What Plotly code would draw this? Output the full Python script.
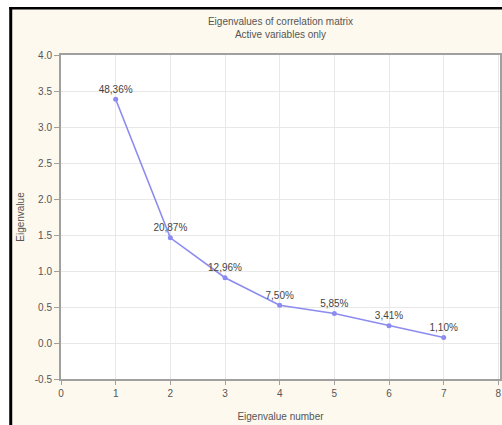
import plotly.graph_objects as go

eigen_number = [1, 2, 3, 4, 5, 6, 7]
eigenvalues = [3.385, 1.461, 0.907, 0.525, 0.410, 0.239, 0.077]
percent_labels = ["48,36%", "20,87%", "12,96%", "7,50%", "5,85%", "3,41%", "1,10%"]
x_ticks = [0, 1, 2, 3, 4, 5, 6, 7, 8]
y_ticks = [-0.5, 0.0, 0.5, 1.0, 1.5, 2.0, 2.5, 3.0, 3.5, 4.0]

W, H = 502, 425
ML, MR, MT, MB = 61, 0, 55, 46
PW, PH = W - ML - MR, H - MT - MB

def px(x):
    return (x - ML) / PW

def py(y):
    return (H - MB - y) / PH

FONT = "Liberation Sans, Arial, sans-serif"
TXT = "#555555"
LINE = "#8c8cf0"

fig = go.Figure()
fig.add_trace(go.Scatter(
    x=eigen_number, y=eigenvalues, mode="lines+markers+text",
    text=percent_labels, textposition="top center",
    textfont=dict(family=FONT, size=10, color="#444444"),
    line=dict(color=LINE, width=1.6),
    marker=dict(color=LINE, size=5, symbol="circle"),
    cliponaxis=False, showlegend=False, hoverinfo="skip",
))

fig.update_layout(
    width=W, height=H,
    margin=dict(l=ML, r=MR, t=MT, b=MB, pad=0),
    paper_bgcolor="#fdf9ee", plot_bgcolor="white",
    font=dict(family=FONT, size=10, color=TXT),
    title=dict(text="Eigenvalues of correlation matrix<br>Active variables only",
               xref="paper", x=0.5, xanchor="center",
               yref="container", y=1 - 25 / H, yanchor="top",
               font=dict(family=FONT, size=10, color=TXT)),
    xaxis=dict(range=[0, 8.03], tickvals=x_ticks, ticktext=[str(v) for v in x_ticks],
               showgrid=True, gridcolor="#e8e8e8", gridwidth=1, zeroline=False,
               showline=True, linecolor="#a0a0a0", linewidth=2, mirror=True,
               ticks="outside", ticklen=4, tickcolor="#a0a0a0",
               tickfont=dict(size=10, color=TXT),
               title=dict(text="Eigenvalue number", standoff=15,
                          font=dict(size=10, color=TXT))),
    yaxis=dict(range=[-0.5, 4.0], tickvals=y_ticks,
               ticktext=[f"{v:.1f}" for v in y_ticks],
               showgrid=True, gridcolor="#e8e8e8", gridwidth=1, zeroline=False,
               showline=True, linecolor="#a0a0a0", linewidth=2, mirror=True,
               ticks="outside", ticklen=5, tickcolor="#a0a0a0",
               tickfont=dict(size=10, color=TXT),
               title=dict(text="Eigenvalue", standoff=8,
                          font=dict(size=10, color=TXT))),
    shapes=[
        dict(type="rect", xref="paper", yref="paper", x0=px(-5), x1=px(9), y0=py(H + 5), y1=py(-5),
             fillcolor="white", line=dict(width=0), layer="above"),
        dict(type="rect", xref="paper", yref="paper", x0=px(-5), x1=px(W + 5), y0=py(7), y1=py(-5),
             fillcolor="white", line=dict(width=0), layer="above"),
        dict(type="rect", xref="paper", yref="paper", x0=px(9), x1=px(12), y0=py(H + 5), y1=py(7),
             fillcolor="black", line=dict(width=0), layer="above"),
        dict(type="rect", xref="paper", yref="paper", x0=px(9), x1=px(W + 5), y0=py(9.5), y1=py(7),
             fillcolor="black", line=dict(width=0), layer="above"),
    ],
)

fig.write_html("out.html", config={"displayModeBar": False},
               post_script="document.body.style.margin='0';document.body.style.overflow='hidden';")
